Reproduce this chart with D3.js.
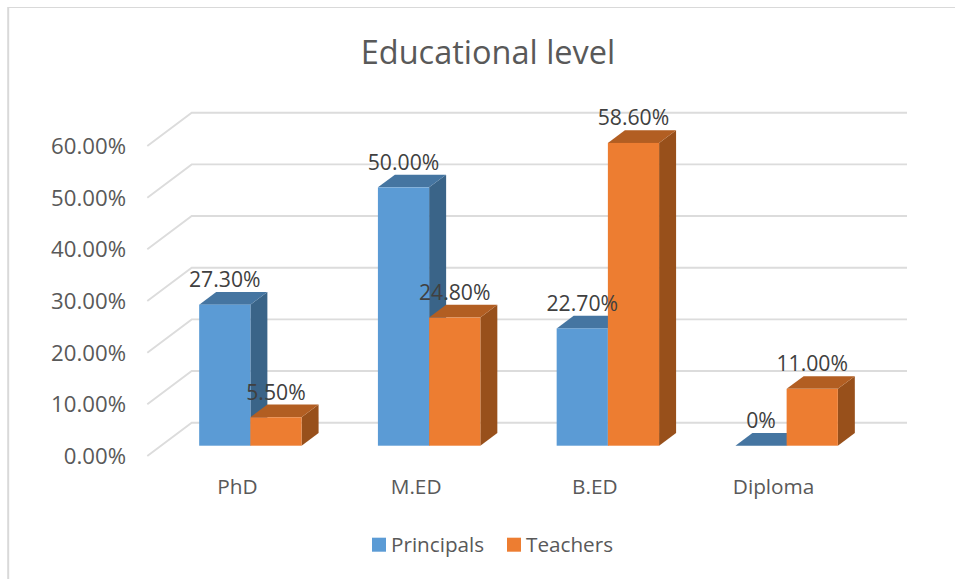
<!DOCTYPE html>
<html><head><meta charset="utf-8">
<script src="https://cdn.jsdelivr.net/npm/d3@7"></script>
<style>html,body{margin:0;padding:0;background:#fff}svg{display:block}text{font-family:"Open Sans",sans-serif}</style>
</head><body><svg id="c" width="955" height="579"></svg>
<script>
const categories = ["PhD","M.ED","B.ED","Diploma"];
const principals = [27.3,50,22.7,0];
const teachers = [5.5,24.8,58.6,11];
const principalLabels = ["27.30%","50.00%","22.70%","0%"];
const teacherLabels = ["5.50%","24.80%","58.60%","11.00%"];
const yTicks = [0,10,20,30,40,50,60];
const seriesNames = ["Principals","Teachers"];

const svg = d3.select("#c");
svg.append("path").attr("d","M955,7.5H8.5").attr("fill","none").attr("stroke","#d9d9d9").attr("stroke-width",1.2);
svg.append("path").attr("d","M8.2,7V579").attr("fill","none").attr("stroke","#d9d9d9").attr("stroke-width",2);

const y = d3.scaleLinear().domain([0,60]).range([445.7,135.7]);
const x = d3.scaleBand().domain(categories).range([161,876]).paddingInner(0.427).paddingOuter(0.2135);
const xs = d3.scaleBand().domain(seriesNames).range([0,x.bandwidth()]);
const floorFront = {x:147.3, dy:10.3};
const depth = {x:44.4, y:33.3};
const barDepth = {x:17, y:12.7};
const rightEnd = 907;

// gridlines
const gy = v => y(v)+floorFront.dy;
svg.append("g").selectAll("path").data(yTicks).join("path")
  .attr("d",v=>`M${floorFront.x},${gy(v)}L${floorFront.x+depth.x},${gy(v)-depth.y}H${rightEnd}`)
  .attr("fill","none").attr("stroke","#dcdcdc").attr("stroke-width",1.9);

// y labels
svg.append("g").selectAll("text").data(yTicks).join("text")
  .attr("x",126).attr("y",v=>gy(v)+8).attr("text-anchor","end")
  .attr("font-size",22.2).attr("fill","#595959").text(v=>v.toFixed(2)+"%");

// x labels
svg.append("g").selectAll("text").data(categories).join("text")
  .attr("x",c=>x(c)+x.bandwidth()/2-13).attr("y",493.5).attr("text-anchor","middle")
  .attr("font-size",20.8).attr("fill","#595959").text(c=>c);

const palettes = {
  Principals:{front:"#5b9bd5",top:"#4575a1",side:"#3a6488"},
  Teachers:{front:"#ed7d31",top:"#b25e22",side:"#98501b"}
};
const rows = [];
categories.forEach((c,i)=>{
  rows.push({c,s:"Principals",v:principals[i],l:principalLabels[i]});
  rows.push({c,s:"Teachers",v:teachers[i],l:teacherLabels[i]});
});
const bars = svg.append("g").selectAll("g").data(rows).join("g");
const bx = d=>x(d.c)+xs(d.s), bw = xs.bandwidth();
bars.append("path").attr("fill",d=>palettes[d.s].side)
  .attr("d",d=>`M${bx(d)+bw},${y(d.v)}l${barDepth.x},${-barDepth.y}V${y(0)-barDepth.y}L${bx(d)+bw},${y(0)}Z`);
bars.append("path").attr("fill",d=>palettes[d.s].top)
  .attr("d",d=>`M${bx(d)},${y(d.v)}l${barDepth.x},${-barDepth.y}h${bw}l${-barDepth.x},${barDepth.y}Z`);
bars.append("rect").attr("fill",d=>palettes[d.s].front)
  .attr("x",bx).attr("y",d=>y(d.v)).attr("width",bw).attr("height",d=>y(0)-y(d.v));

// data labels
svg.append("g").selectAll("text").data(rows).join("text")
  .attr("x",d=>bx(d)+bw/2).attr("y",d=>y(d.v)-17.7)
  .attr("text-anchor","middle").attr("font-size",21.2).attr("fill","#404040").text(d=>d.l);

// title
svg.append("text").attr("x",488).attr("y",63.5).attr("text-anchor","middle")
  .attr("font-size",32.5).attr("fill","#595959").text("Educational level");

// legend
const legendX = d3.scaleOrdinal().domain(seriesNames).range([372,507]);
const lg = svg.append("g").selectAll("g").data(seriesNames).join("g");
lg.append("rect").attr("x",s=>legendX(s)).attr("y",537.7).attr("width",14).attr("height",14).attr("fill",s=>palettes[s].front);
lg.append("text").attr("x",s=>legendX(s)+19).attr("y",551.7).attr("font-size",20.7).attr("fill","#595959").text(s=>s);
</script></body></html>
